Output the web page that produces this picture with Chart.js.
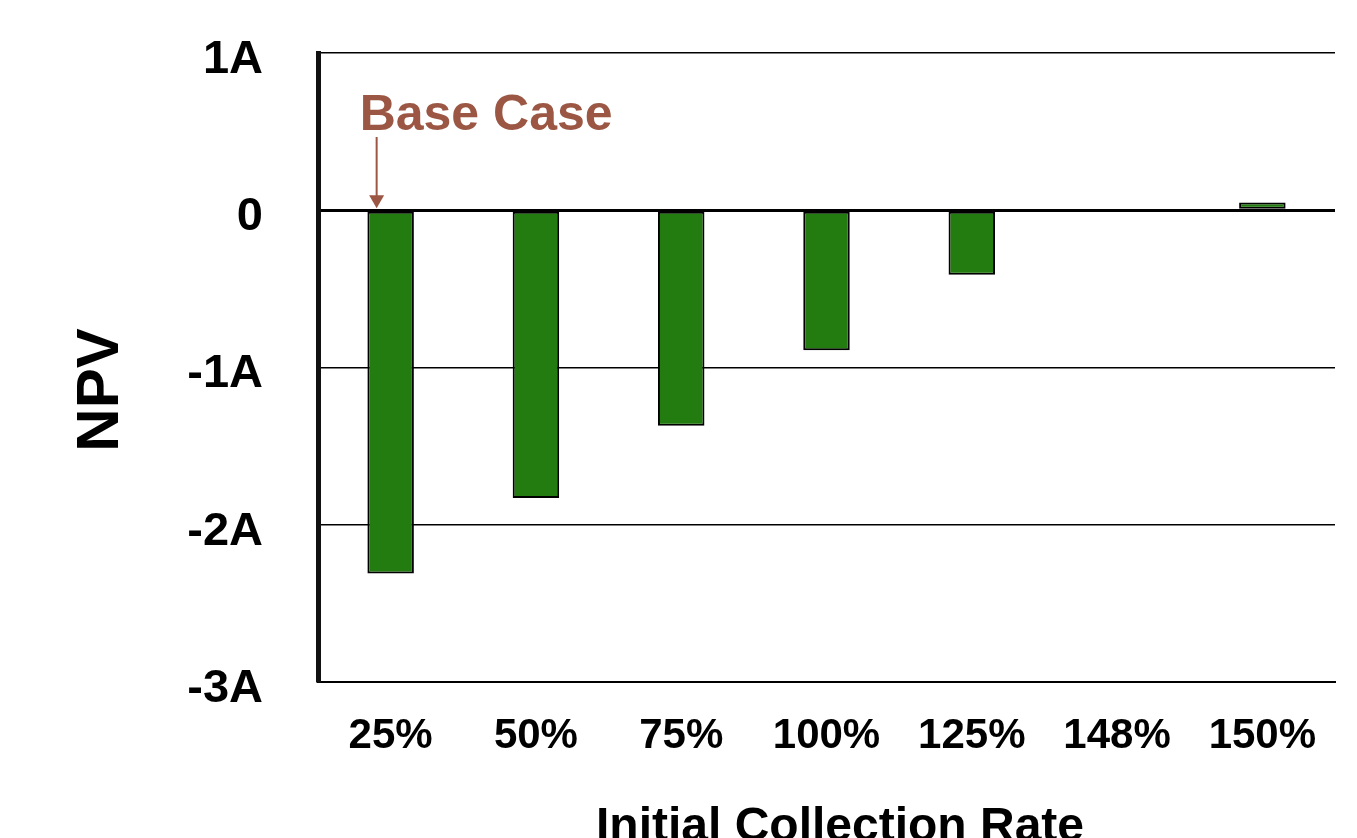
<!DOCTYPE html>
<html>
<head>
<meta charset="utf-8">
<script src="https://cdn.jsdelivr.net/npm/chart.js@4"></script>
<style>
html,body{margin:0;padding:0;background:#fff;}
#wrap{width:1357px;height:838px;}
</style>
</head>
<body>
<div id="wrap"><canvas id="c" width="1357" height="838"></canvas></div>
<script>
const categories = ["25%", "50%", "75%", "100%", "125%", "148%", "150%"];
const npvValues = [-2.31, -1.83, -1.37, -0.89, -0.41, 0, 0.05];
const yTickValues = [1, 0, -1, -2, -3];
const yAxisTitle = "NPV";
const xAxisTitle = "Initial Collection Rate";
const annotationText = "Base Case";
const annotationCategory = "25%";

const FONT = "'Liberation Sans', Arial, Helvetica, sans-serif";

const overlay = {
  id: 'overlay',
  afterDraw(chart) {
    const ctx = chart.ctx;
    const x = chart.scales.x;
    const y = chart.scales.y;
    ctx.save();
    ctx.fillStyle = '#000';
    ctx.font = `bold 60px ${FONT}`;
    ctx.textAlign = 'center';
    ctx.textBaseline = 'middle';
    ctx.translate(101, 390);
    ctx.rotate(-Math.PI / 2);
    ctx.fillText(yAxisTitle, 0, 0);
    ctx.restore();

    ctx.save();
    ctx.fillStyle = '#000';
    ctx.font = `bold 48px ${FONT}`;
    ctx.textAlign = 'center';
    ctx.textBaseline = 'alphabetic';
    ctx.fillText(xAxisTitle, 840, 841);
    ctx.restore();

    const ax = x.getPixelForValue(categories.indexOf(annotationCategory)) - 14;
    const y0 = y.getPixelForValue(0);
    ctx.save();
    ctx.fillStyle = '#9b5744';
    ctx.strokeStyle = '#9b5744';
    ctx.font = `bold 50px ${FONT}`;
    ctx.textAlign = 'left';
    ctx.textBaseline = 'alphabetic';
    ctx.fillText(annotationText, ax - 17, 130);
    ctx.lineWidth = 2;
    ctx.beginPath();
    ctx.moveTo(ax, 137);
    ctx.lineTo(ax, y0 - 14);
    ctx.stroke();
    ctx.beginPath();
    ctx.moveTo(ax - 7.5, y0 - 15);
    ctx.lineTo(ax + 7.5, y0 - 15);
    ctx.lineTo(ax, y0 - 2);
    ctx.closePath();
    ctx.fill();
    ctx.restore();
  }
};

new Chart(document.getElementById('c'), {
  type: 'bar',
  data: {
    labels: categories,
    datasets: [{
      data: npvValues,
      backgroundColor: '#237c0f',
      borderColor: '#000',
      borderWidth: 2,
      borderSkipped: false,
      barPercentage: 0.32,
      categoryPercentage: 1
    }]
  },
  options: {
    responsive: false,
    animation: false,
    layout: { padding: { top: 53, right: 22, left: 0, bottom: 0 } },
    plugins: { legend: { display: false }, tooltip: { enabled: false } },
    scales: {
      x: {
        grid: { display: false, drawTicks: false },
        border: { display: true, color: '#000', width: 2 },
        ticks: {
          color: '#000',
          font: { family: FONT, size: 42, weight: 'bold' },
          padding: 29,
          maxRotation: 0,
          autoSkip: false
        },
        afterFit(scale) { scale.height = 838 - 682; }
      },
      y: {
        min: -3,
        max: 1,
        afterBuildTicks(scale) { scale.ticks = yTickValues.map(v => ({ value: v })); },
        grid: {
          drawTicks: false,
          color: '#000',
          lineWidth: (c) => (c.tick && c.tick.value === 0 ? 3 : 1.5)
        },
        border: { display: true, color: '#111', width: 5 },
        ticks: {
          color: '#000',
          font: { family: FONT, size: 47, weight: 'bold' },
          padding: 55,
          labelOffset: 7,
          callback: (v) => (v === 0 ? '0' : v + 'A')
        },
        afterFit(scale) {
          scale.width = 318;
          scale.paddingTop = 0;
          scale.paddingBottom = 0;
        }
      }
    }
  },
  plugins: [overlay]
});
</script>
</body>
</html>
